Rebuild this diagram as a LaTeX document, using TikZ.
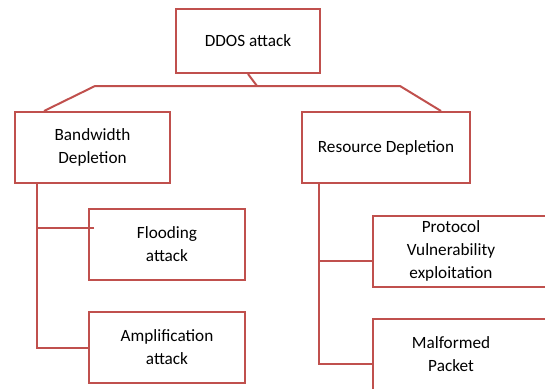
\documentclass[tikz,border=0pt]{standalone}
\usepackage{fontspec}
\setmainfont{Carlito}
\usetikzlibrary{positioning}
\definecolor{boxred}{HTML}{C0504D}

\begin{document}
\begin{tikzpicture}[x=1pt, y=-1pt,
    box/.style={draw=boxred, line width=2pt, align=center, inner sep=0pt,
        font=\fontsize{17.2}{23}\selectfont},
    rbox/.style={box, anchor=west, text width=203, minimum height=71,
        execute at begin node={\leftskip=0pt plus 1fil\rightskip=47pt plus 1fil\parfillskip=0pt}},
    link/.style={draw=boxred, line width=2pt}]
    \useasboundingbox (0,0) rectangle (545,388);
    % Top node
    \node[box, minimum width=144, minimum height=64] (ddos) at (248,41) {DDOS attack};
    % Second level
    \node[box, minimum width=155, minimum height=71] (bw) at (92.5,147.5) {Bandwidth\\Depletion};
    \node[box, minimum width=168, minimum height=71] (rd) at (386,147.5) {Resource Depletion};
    % Bandwidth depletion children
    \node[box, minimum width=156, minimum height=71] (flood) at (167,244.5) {Flooding\\attack};
    \node[box, minimum width=156, minimum height=71] (amp) at (167,347.5) {Amplification\\attack};
    % Resource depletion children (cut at the right edge)
    \node[rbox] (prot) at (372,251) {Protocol\\Vulnerability\\exploitation};
    \node[rbox] (mal) at (372,354.5) {Malformed\\Packet};
    % Top connector
    \coordinate (jn) at (257,86);
    \coordinate (bl) at (95,86);
    \coordinate (br) at (400,86);
    \draw[link] (ddos.south) -- (jn);
    \draw[link] ([xshift=30]bw.north west) -- (bl) -- (br) -- ([xshift=-30]rd.north east);
    % Left trunk
    \coordinate (lt) at ([xshift=23]bw.south west);
    \draw[link] (lt) |- (amp.west);
    \draw[link] ([xshift=6,yshift=16.5]flood.west) -| (lt);
    % Right trunk
    \coordinate (rt) at ([xshift=18]rd.south west);
    \draw[link] (rt) |- ([yshift=-9.5]mal.west);
    \draw[link] ([yshift=-10]prot.west) -| (rt);
\end{tikzpicture}
\end{document}
